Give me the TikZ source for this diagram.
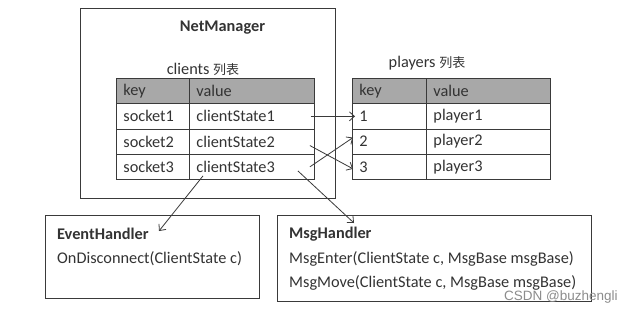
\documentclass[tikz,border=0pt]{standalone}
\usepackage{fontspec}
\setmainfont{Carlito}
\newfontfamily\cjk{Noto Sans CJK SC}
\newfontfamily\wmfont{Liberation Sans}
\usetikzlibrary{arrows.meta,calc}
\definecolor{ln}{HTML}{3A3A3A}
\definecolor{tx}{HTML}{333333}
\definecolor{hd}{HTML}{A8A8A8}
\newcommand{\cjkpart}[1]{{\cjk\fontsize{13bp}{15bp}\selectfont #1}}
\begin{document}
\begin{tikzpicture}[x=1bp,y=-1bp,
  txt/.style={text=tx,inner sep=0pt,font=\fontsize{16.3bp}{18bp}\selectfont},
  cell/.style={txt,draw=ln,line width=0.9bp,anchor=north west,inner xsep=7bp,inner ysep=0pt,minimum height=25.25bp,align=left},
  kcell/.style={cell,text width=59bp},
  vcell/.style={cell,text width=110bp},
  head/.style={fill=hd},
  box/.style={draw=ln,line width=0.9bp,anchor=north west,inner sep=0pt},
  conn/.style={draw=ln,line width=0.8bp,-{Straight Barb[length=5bp,width=9bp]}},
  lbl/.style={txt,anchor=west},
  ttl/.style={txt,font=\fontsize{16.3bp}{18bp}\selectfont\bfseries}]
\useasboundingbox[fill=white] (0,0) rectangle (635,313);
% NetManager box
\node[box,minimum width=255bp,minimum height=190bp] (nm) at (80,8) {};
\node[ttl] (nmt) at (222.5,28) {NetManager};
\node[txt] (clt) at (203,69) {clients \cjkpart{列表}};
\node[txt] (plt) at (427,63) {players \cjkpart{列表}};
% clients table
\node[kcell,head] (ck0) at (116,78) {key};
\node[vcell,head,text width=111bp] (cv0) at (189,78) {value};
\foreach \i/\k/\v in {1/socket1/clientState1,2/socket2/clientState2,3/socket3/clientState3}{
  \node[kcell] (ck\i) at (116,{78+25.25*\i}) {\k};
  \node[vcell,text width=111bp] (cv\i) at (189,{78+25.25*\i}) {\v};
}
% players table
\node[kcell,head,text width=60bp] (pk0) at (352,78) {key};
\node[vcell,head] (pv0) at (426,78) {value};
\foreach \i/\k/\v in {1/1/player1,2/2/player2,3/3/player3}{
  \node[kcell,text width=60bp] (pk\i) at (352,{78+25.25*\i}) {\k};
  \node[vcell] (pv\i) at (426,{78+25.25*\i}) {\v};
}
% handler boxes
\node[box,minimum width=214bp,minimum height=83bp] (eh) at (45,215) {};
\node[ttl,anchor=west] (eht) at (57,234) {EventHandler};
\node[lbl] (ehm) at (57,259) {OnDisconnect(ClientState c)};
\node[box,minimum width=314bp,minimum height=86bp] (mh) at (277,215) {};
\node[ttl,anchor=west] (mht) at (289,234) {MsgHandler};
\node[lbl] (mhe) at (289,259) {MsgEnter(ClientState c, MsgBase msgBase)};
\node[lbl] (mhm) at (289,283) {MsgMove(ClientState c, MsgBase msgBase)};
% connectors
\draw[conn] ($(cv1.east)+(-4,0)$) -- ($(pk1.west)+(3,0)$);
\draw[conn] ($(cv2.east)+(-5,4)$) -- ($(pk3.west)+(1,2)$);
\draw[conn] ($(cv3.east)+(-5,0)$) -- ($(pk2.west)+(1,-4)$);
\draw[conn] ($(cv3.south west)+(14,-4)$) -- ($(eh.north west)+(114,16)$);
\draw[conn] ($(cv3.south east)+(-17,-9)$) -- ($(mh.north west)+(77,8)$);
% watermark
\node[inner sep=0pt,text=black!45,font=\wmfont\fontsize{13.5bp}{15bp}\selectfont,anchor=west] (wm) at (504,297) {CSDN @buzhengli};
\end{tikzpicture}
\end{document}
